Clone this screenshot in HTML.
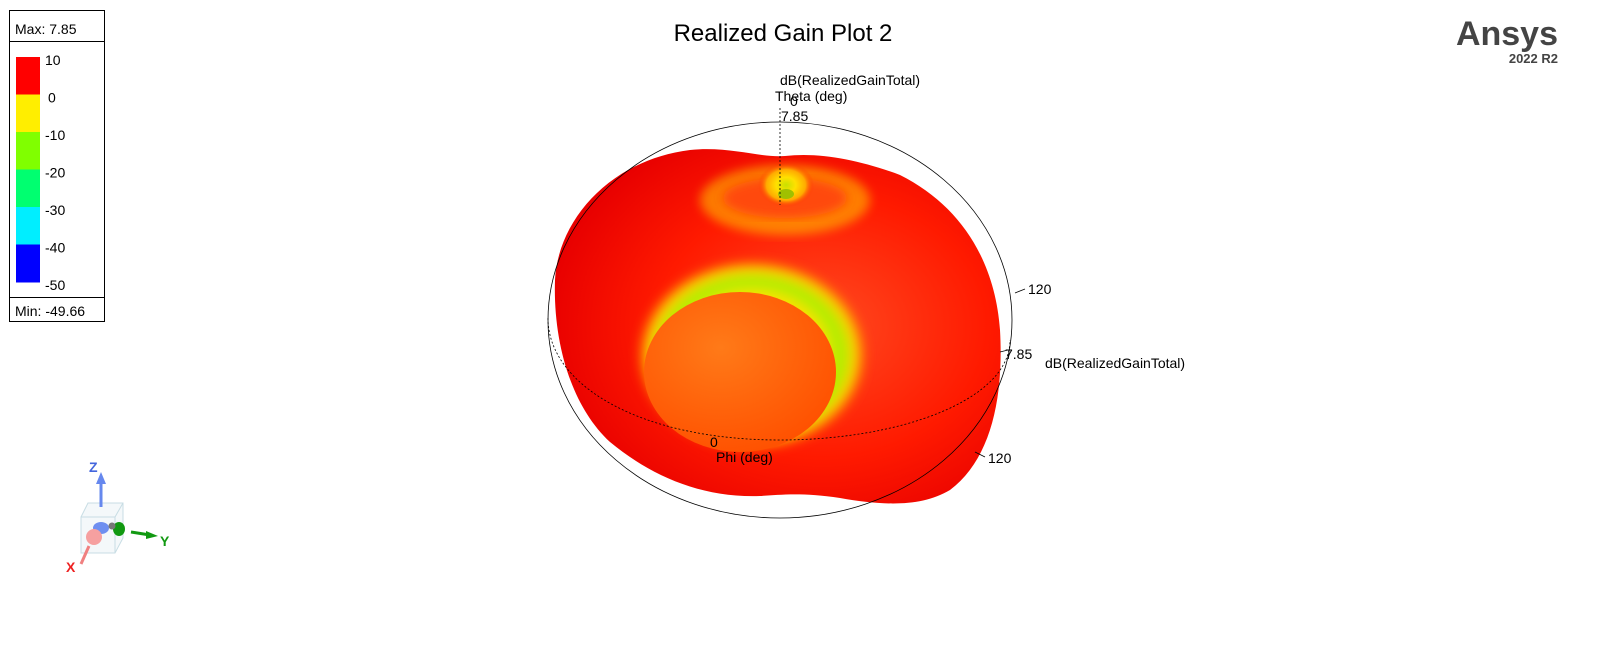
<!DOCTYPE html>
<html><head><meta charset="utf-8"><style>
body{margin:0;background:#fff;width:1620px;height:645px;overflow:hidden;font-family:"Liberation Sans",sans-serif;}
</style></head><body>
<svg width="1620" height="645" viewBox="0 0 1620 645">
<defs>
<radialGradient id="gOuter" cx="0.6" cy="0.5" r="0.62">
<stop offset="0" stop-color="#ff4a20"/><stop offset="0.6" stop-color="#ff1a00"/><stop offset="1" stop-color="#e80000"/></radialGradient>
<radialGradient id="gRing" cx="0.5" cy="0.5" r="0.5">
<stop offset="0.6" stop-color="#ffe000"/><stop offset="0.75" stop-color="#a8f000"/><stop offset="0.88" stop-color="#ffd000"/><stop offset="1" stop-color="#ff4000" stop-opacity="0"/></radialGradient>
<radialGradient id="gInner" cx="0.4" cy="0.35" r="0.7">
<stop offset="0" stop-color="#ff7a18"/><stop offset="1" stop-color="#ff5000"/></radialGradient>
<radialGradient id="gTop" cx="0.5" cy="0.5" r="0.5">
<stop offset="0" stop-color="#c8e000"/><stop offset="0.35" stop-color="#ffe000"/><stop offset="0.7" stop-color="#ffaa00"/><stop offset="1" stop-color="#ff3000" stop-opacity="0"/></radialGradient>
<filter id="blur"><feGaussianBlur stdDeviation="5"/></filter>
</defs>
<text x="783" y="41" font-size="24" text-anchor="middle" fill="#000">Realized Gain Plot 2</text>
<text x="1558" y="45" font-size="34" font-weight="bold" text-anchor="end" fill="#444">Ansys</text>
<text x="1558" y="63" font-size="13" font-weight="bold" text-anchor="end" fill="#444">2022 R2</text>
<g id="legend">
<rect x="9.5" y="10.5" width="95" height="311" fill="#fff" stroke="#000"/>
<line x1="9.5" y1="41.5" x2="104.5" y2="41.5" stroke="#000"/>
<line x1="9.5" y1="297.5" x2="104.5" y2="297.5" stroke="#000"/>
<text x="15" y="34" font-size="14">Max: 7.85</text>
<text x="15" y="316" font-size="14">Min: -49.66</text>
</g>
<g id="pattern">
<path d="M690,150 C730,146 760,158 785,156 C820,152 860,160 900,175 C960,205 995,260 1000,330 C1004,400 990,460 950,490 C920,508 880,505 840,498 C800,492 780,495 760,496 C700,498 650,475 610,442 C570,405 553,340 555,280 C558,220 610,160 690,150 Z" fill="url(#gOuter)"/>
<ellipse cx="785" cy="200" rx="85" ry="35" fill="#ffcc00" opacity="0.55" filter="url(#blur)"/>
<ellipse cx="785" cy="198" rx="62" ry="20" fill="#ff4a10" filter="url(#blur)"/>
<ellipse cx="786" cy="185" rx="28" ry="22" fill="url(#gTop)"/>
<ellipse cx="786" cy="194" rx="8" ry="5" fill="#a0c000"/>
<ellipse cx="752" cy="355" rx="118" ry="98" fill="url(#gRing)" filter="url(#blur)"/>
<ellipse cx="740" cy="372" rx="96" ry="80" fill="url(#gInner)"/>
</g>
<g fill="none" stroke="#000" stroke-width="0.8">
<ellipse cx="780" cy="320" rx="232" ry="198"/>
<path d="M548,318 C548,385 640,440 780,440 C900,440 1010,400 1010,340" stroke-dasharray="2,2"/>
<line x1="780" y1="108" x2="780" y2="205" stroke-dasharray="2,2"/>
<line x1="1000" y1="352" x2="1008" y2="350"/>
</g>
<g font-size="14" fill="#000">
<text x="780" y="85">dB(RealizedGainTotal)</text>
<text x="775" y="101">Theta (deg)</text>
<text x="790" y="106">0</text>
<text x="781" y="121">7.85</text>
<text x="1028" y="294">120</text>
<text x="1005" y="359">7.85</text>
<text x="1045" y="368">dB(RealizedGainTotal)</text>
<text x="988" y="463">120</text>
<text x="710" y="447">0</text>
<text x="716" y="462">Phi (deg)</text>
</g>
<line x1="1015" y1="293" x2="1025" y2="289" stroke="#000" stroke-width="0.8"/>
<line x1="975" y1="452" x2="985" y2="457" stroke="#000" stroke-width="0.8"/>
<g>
<path d="M81,517 L88,503 L123,503 L123,538 L115,553 L81,553 Z" fill="#f4f8fa" stroke="#c8dde4"/>
<path d="M81,517 L115,517 L123,503 M115,517 L115,553" fill="none" stroke="#c8dde4"/>
<line x1="101" y1="507" x2="101" y2="480" stroke="#6688ee" stroke-width="3"/>
<path d="M96,484 L101,472 L106,484 Z" fill="#6688ee"/>
<ellipse cx="101" cy="528" rx="8" ry="6" fill="#6f8ff0"/>
<circle cx="94" cy="537" r="8" fill="#f6a0a0"/>
<line x1="89" y1="546" x2="81" y2="564" stroke="#f08080" stroke-width="3"/>
<ellipse cx="119" cy="529" rx="6" ry="7" fill="#119911"/>
<circle cx="112" cy="526" r="3.5" fill="#777"/>
<line x1="131" y1="532" x2="150" y2="535" stroke="#119911" stroke-width="3"/>
<path d="M146,531 L158,536 L146,539 Z" fill="#119911"/>
<text x="89" y="472" font-size="14" font-weight="bold" fill="#4466dd">Z</text>
<text x="160" y="546" font-size="14" font-weight="bold" fill="#119911">Y</text>
<text x="66" y="572" font-size="14" font-weight="bold" fill="#ee2222">X</text>
</g>
</svg>
<script>
const legendLabels=["10","0","-10","-20","-30","-40","-50"];
const legendColors=["#ff0000","#ffee00","#80ff00","#00ff70","#00eeff","#0000ff"];
const g=document.getElementById('legend');
const NS="http://www.w3.org/2000/svg";
const top0=57,band=37.5;
legendColors.forEach((c,i)=>{const r=document.createElementNS(NS,'rect');
r.setAttribute('x',16);r.setAttribute('y',top0+i*band);r.setAttribute('width',24);r.setAttribute('height',band+0.5);r.setAttribute('fill',c);


g.appendChild(r);});
legendLabels.forEach((l,i)=>{const t=document.createElementNS(NS,'text');
t.setAttribute('x',i==1?48:45);t.setAttribute('y',top0+i*band+8);t.setAttribute('font-size','14');t.textContent=l;


g.appendChild(t);});
</script>
</body></html>
